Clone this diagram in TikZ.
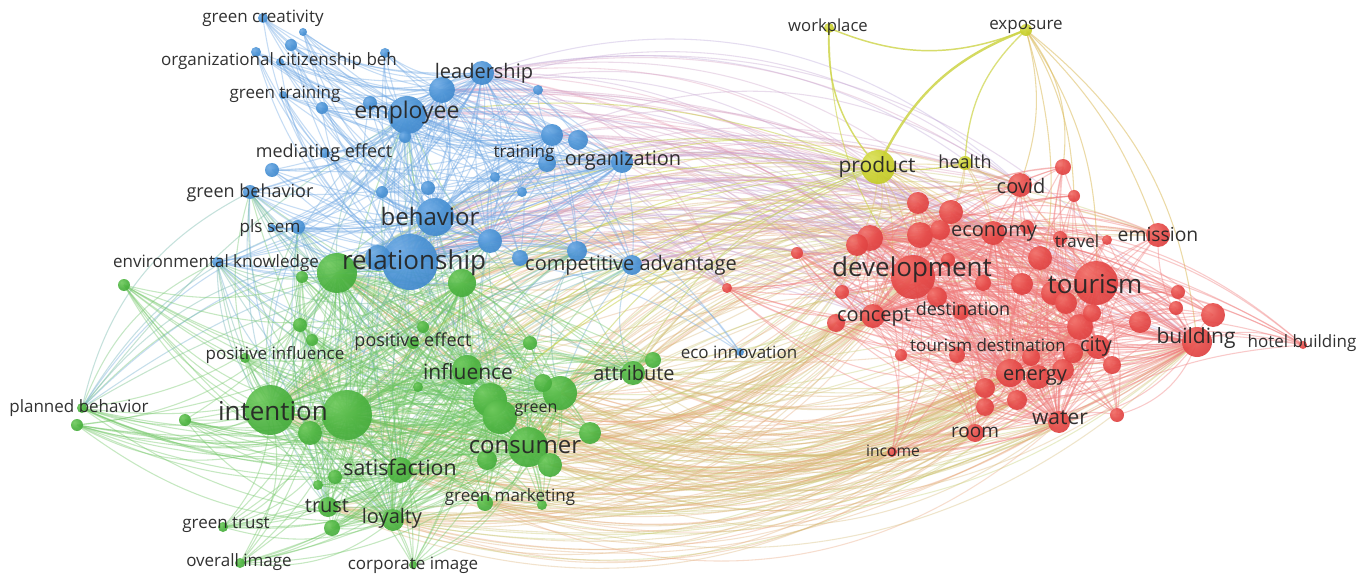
\documentclass[tikz,border=0pt]{standalone}
\usepackage{fontspec}
\setmainfont{Open Sans}
\pgfdeclarelayer{paper}
\pgfdeclarelayer{edges}
\pgfsetlayers{paper,edges,main}

% bubble colours
\definecolor{nodeR}{RGB}{229,74,72}
\definecolor{nodeRl}{RGB}{242,115,108}
\definecolor{nodeRd}{RGB}{212,56,58}
\definecolor{nodeG}{RGB}{78,180,66}
\definecolor{nodeGl}{RGB}{112,202,94}
\definecolor{nodeGd}{RGB}{60,162,54}
\definecolor{nodeB}{RGB}{74,146,212}
\definecolor{nodeBl}{RGB}{112,172,230}
\definecolor{nodeBd}{RGB}{56,126,196}
\definecolor{nodeY}{RGB}{202,209,46}
\definecolor{nodeYl}{RGB}{220,226,92}
\definecolor{nodeYd}{RGB}{186,193,36}
% link colours
\definecolor{eR}{RGB}{240,122,122}
\definecolor{eG}{RGB}{112,198,100}
\definecolor{eB}{RGB}{112,168,228}
\definecolor{eY}{RGB}{205,212,70}
\definecolor{eKhaki}{RGB}{192,205,104}
\definecolor{eSalmon}{RGB}{238,158,122}
\definecolor{eLav}{RGB}{180,162,218}
\definecolor{ePink}{RGB}{234,152,174}
\definecolor{labc}{RGB}{38,38,38}

\pgfdeclareradialshading{shR}{\pgfpoint{-12bp}{12bp}}{color(0bp)=(nodeRl); color(22bp)=(nodeR); color(50bp)=(nodeRd); color(90bp)=(nodeRd)}
\pgfdeclareradialshading{shG}{\pgfpoint{-12bp}{12bp}}{color(0bp)=(nodeGl); color(22bp)=(nodeG); color(50bp)=(nodeGd); color(90bp)=(nodeGd)}
\pgfdeclareradialshading{shB}{\pgfpoint{-12bp}{12bp}}{color(0bp)=(nodeBl); color(22bp)=(nodeB); color(50bp)=(nodeBd); color(90bp)=(nodeBd)}
\pgfdeclareradialshading{shY}{\pgfpoint{-12bp}{12bp}}{color(0bp)=(nodeYl); color(22bp)=(nodeY); color(50bp)=(nodeYd); color(90bp)=(nodeYd)}

\tikzset{
  bub/.style={circle, inner sep=0pt, minimum size=1.5pt*#1, draw=none, fill opacity=0.92},
  rb/.style={bub=#1, shading=shR},
  gb/.style={bub=#1, shading=shG},
  bb/.style={bub=#1, shading=shB},
  yb/.style={bub=#1, shading=shY},
  lbl/.style={inner sep=0pt, text=labc, text opacity=0.95, font=\fontsize{#1}{#1}\selectfont},
  link/.style={line width=0.8pt, draw opacity=0.4},
}

\begin{document}
\begin{tikzpicture}[x=0.75pt, y=-0.75pt]
\begin{pgfonlayer}{paper}
\path[fill=white] (0,0) rectangle (1371,574);
\end{pgfonlayer}
\useasboundingbox (0,0) rectangle (1371,574);
\clip (0,0) rectangle (1371,574);

% ---------------- blue cluster ----------------
\node[bb=28] (brel) at (410,262) {};
\node[bb=13] (brel2) at (378,258) {};
\node[bb=19] (bbeh) at (435,217) {};
\node[bb=19] (bemp) at (407,115) {};
\node[bb=12] (blead) at (482,73) {};
\node[bb=13] (blead2) at (442,90) {};
\node[bb=11] (borg) at (622,162) {};
\node[bb=11] (btr1) at (552,135) {};
\node[bb=10] (btr2) at (578,140) {};
\node[bb=9] (btr3) at (547,163) {};
\node[bb=10] (bcomp) at (632,265) {};
\node[bb=5] (bcrea) at (263,18) {};
\node[bb=4] (bc2) at (303,32) {};
\node[bb=6] (bc3) at (291,45) {};
\node[bb=5] (bc4) at (256,52) {};
\node[bb=4] (bocb) at (280,62) {};
\node[bb=5] (bc5) at (385,53) {};
\node[bb=4] (bgtr) at (283,95) {};
\node[bb=6] (bc6) at (322,108) {};
\node[bb=7] (bc7) at (370,103) {};
\node[bb=6] (bemp2) at (405,137) {};
\node[bb=5] (bc8) at (538,90) {};
\node[bb=5] (bmed) at (325,153) {};
\node[bb=7] (bc9) at (272,170) {};
\node[bb=7] (bgbeh) at (250,192) {};
\node[bb=4] (bpls) at (272,228) {};
\node[bb=7] (bpls2) at (298,227) {};
\node[bb=5] (benvk) at (217,262) {};
\node[bb=6] (bc10) at (382,192) {};
\node[bb=7] (bc11) at (428,188) {};
\node[bb=5] (bc12) at (495,177) {};
\node[bb=5] (bc13) at (522,192) {};
\node[bb=12] (bc14) at (490,241) {};
\node[bb=8] (bc15) at (520,258) {};
\node[bb=10] (bc16) at (577,251) {};
\node[bb=4] (beco) at (740,352) {};

% ---------------- green cluster ----------------
\node[gb=25] (gint) at (270,410) {};
\node[gb=25] (gint2) at (347,415) {};
\node[gb=12] (gint3) at (310,433) {};
\node[gb=20] (grel1) at (337,273) {};
\node[gb=14] (grel2) at (462,283) {};
\node[gb=6] (gs1) at (302,277) {};
\node[gb=7] (gs2) at (300,325) {};
\node[gb=6] (gs3) at (312,340) {};
\node[gb=6] (gs4) at (423,327) {};
\node[gb=6] (gpe) at (413,343) {};
\node[gb=5] (gpi) at (245,358) {};
\node[gb=7] (gs5) at (530,343) {};
\node[gb=15] (ginf) at (467,370) {};
\node[gb=5] (gs6) at (418,387) {};
\node[gb=12] (gattr) at (633,373) {};
\node[gb=8] (gattr2) at (653,360) {};
\node[gb=17] (gb1) at (560,393) {};
\node[gb=9] (gb2) at (543,383) {};
\node[gb=17] (gb3) at (490,400) {};
\node[gb=17] (gb4) at (500,417) {};
\node[gb=20] (gcons) at (528,447) {};
\node[gb=11] (gc2) at (590,433) {};
\node[gb=12] (gc3) at (550,465) {};
\node[gb=10] (gc4) at (487,460) {};
\node[gb=13] (gsat) at (400,470) {};
\node[gb=7] (gs7) at (335,477) {};
\node[gb=5] (gs8) at (318,485) {};
\node[gb=8] (ggm1) at (485,503) {};
\node[gb=5] (ggm2) at (542,505) {};
\node[gb=10] (gtrust) at (328,507) {};
\node[gb=11] (gloy) at (393,520) {};
\node[gb=8] (gs9) at (332,528) {};
\node[gb=5] (ggt) at (223,527) {};
\node[gb=5] (gover) at (240,563) {};
\node[gb=4] (gcorp) at (413,565) {};
\node[gb=5] (gpb) at (82,408) {};
\node[gb=6] (gpb2) at (77,425) {};
\node[gb=6] (gs10) at (185,420) {};
\node[gb=6] (genv) at (124,285) {};

% ---------------- yellow cluster ----------------
\node[yb=5] (ywork) at (829,28) {};
\node[yb=6] (yexpo) at (1026,30) {};
\node[yb=17] (yprod) at (878,167) {};
\node[yb=7] (yhea) at (965,163) {};

% ---------------- red cluster ----------------
\node[rb=22] (rdev) at (913,277) {};
\node[rb=13] (rd1) at (870,238) {};
\node[rb=11] (rd2) at (857,245) {};
\node[rb=11] (rd3) at (918,203) {};
\node[rb=12] (rd4) at (951,212) {};
\node[rb=13] (rd5) at (920,235) {};
\node[rb=10] (rd6) at (940,230) {};
\node[rb=12] (recon) at (993,233) {};
\node[rb=7] (rd7) at (948,260) {};
\node[rb=8] (rd8) at (983,283) {};
\node[rb=11] (rd9) at (1022,284) {};
\node[rb=12] (rd10) at (1040,258) {};
\node[rb=7] (rd11) at (1027,227) {};
\node[rb=12] (rcov) at (1020,185) {};
\node[rb=8] (rd12) at (1063,167) {};
\node[rb=6] (rd13) at (1074,196) {};
\node[rb=7] (rd17) at (1060,238) {};
\node[rb=5] (rtrav) at (1107,240) {};
\node[rb=12] (remis) at (1158,235) {};
\node[rb=22] (rtour) at (1096,283) {};
\node[rb=12] (rt1) at (1053,293) {};
\node[rb=11] (rt2) at (1066,303) {};
\node[rb=13] (rt3) at (1080,327) {};
\node[rb=9] (rt4) at (1092,313) {};
\node[rb=11] (rt5) at (1140,322) {};
\node[rb=12] (rconc) at (873,316) {};
\node[rb=9] (rcon2) at (836,323) {};
\node[rb=7] (rd14) at (842,292) {};
\node[rb=8] (rdest) at (961,312) {};
\node[rb=10] (rd15) at (937,297) {};
\node[rb=12] (rcity) at (1098,347) {};
\node[rb=9] (rcity2) at (1112,365) {};
\node[rb=15] (rbuild) at (1197,342) {};
\node[rb=12] (rb2) at (1213,315) {};
\node[rb=7] (rb3) at (1178,292) {};
\node[rb=7] (rb4) at (1176,308) {};
\node[rb=4] (rhotel) at (1303,345) {};
\node[rb=6] (rtd1) at (901,355) {};
\node[rb=8] (rtd2) at (957,355) {};
\node[rb=14] (ren) at (1010,373) {};
\node[rb=12] (re2) at (1038,377) {};
\node[rb=11] (re3) at (1063,370) {};
\node[rb=9] (re4) at (1031,357) {};
\node[rb=10] (re5) at (1073,353) {};
\node[rb=10] (re6) at (985,388) {};
\node[rb=9] (re7) at (985,407) {};
\node[rb=10] (re8) at (1017,400) {};
\node[rb=11] (rwat) at (1059,422) {};
\node[rb=7] (rw2) at (1117,415) {};
\node[rb=9] (rroom) at (975,433) {};
\node[rb=5] (rinc) at (892,452) {};
\node[rb=6] (rfar1) at (797,253) {};
\node[rb=5] (rfar2) at (727,288) {};

% ---------------- links ----------------
\begin{pgfonlayer}{edges}
% green to red, lower arcs
\foreach \a [count=\i] in {gint,gint2,gcons,gb1,gb3,gsat,gc3,gloy,gtrust,gattr,gb4,grel1,gc2,ggm1}{
  \foreach \b [count=\j] in {rdev,rtour,ren,rwat,rconc,rbuild,rcity,rt3,rroom,re6,rcon2,rd1,rinc,re8}{
    \pgfmathtruncatemacro\bnd{12+mod(\i*7+\j*11,24)}
    \pgfmathtruncatemacro\pct{mod(\i*37+\j*23,100)}
    \draw[link, draw=eKhaki!\pct!eSalmon, draw opacity=0.36] (\a.center) to[bend right=\bnd] (\b.center);
  }
}
% green to red, upper arcs
\foreach \a [count=\i] in {grel1,grel2,ginf,gb1,gint2,gattr,gcons,gint}{
  \foreach \b [count=\j] in {rdev,rd1,rd3,rd4,recon,rcov,rtour,remis,rd5,rfar1}{
    \pgfmathtruncatemacro\bnd{10+mod(\i*5+\j*9,22)}
    \pgfmathtruncatemacro\pct{mod(\i*29+\j*41,100)}
    \draw[link, draw=eKhaki!\pct!eSalmon, draw opacity=0.36] (\a.center) to[bend left=\bnd] (\b.center);
  }
}
% blue to red
\foreach \a [count=\i] in {brel,bbeh,bemp,borg,blead,btr1,bcomp,bc14,brel2,blead2}{
  \foreach \b [count=\j] in {rdev,rtour,rd1,rd5,rcov,recon,rbuild,rconc,ren,rd3,rfar2}{
    \pgfmathtruncatemacro\bnd{10+mod(\i*7+\j*5,24)}
    \pgfmathtruncatemacro\pct{mod(\i*31+\j*17,100)}
    \draw[link, draw=eLav!\pct!ePink, draw opacity=0.36] (\a.center) to[bend left=\bnd] (\b.center);
  }
}
% blue to green
\foreach \a [count=\i] in {brel,brel2,bbeh,bemp,bc14,bcomp,bpls2,benvk,bgbeh,bc16}{
  \foreach \b [count=\j] in {gint,gint2,gcons,grel1,grel2,gsat,gb1,gb3,ginf,gtrust,gloy,gattr,gpe,gpb}{
    \pgfmathtruncatemacro\bnd{10+mod(\i*3+\j*7,22)}
    \pgfmathtruncatemacro\pct{mod(\i*43+\j*19,100)}
    \draw[link, draw=eB!\pct!eG] (\a.center) to[bend right=\bnd] (\b.center);
  }
}
% eco innovation
\foreach \a in {brel,bbeh,bcomp,bemp}{
  \draw[link, draw=eB] (beco.center) to[bend right=18] (\a.center);
}
% product towards the left
\foreach \b [count=\j] in {gint,gint2,gcons,gb1,gb3,grel1,gsat,brel,bbeh,bemp,gattr,ginf,borg,bcomp}{
  \pgfmathtruncatemacro\bnd{8+mod(\j*7,16)}
  \pgfmathtruncatemacro\pct{mod(\j*37,100)}
  \draw[link, draw=eY!\pct!eKhaki, draw opacity=0.55] (yprod.center) to[bend right=\bnd] (\b.center);
}
% product towards the red cluster
\foreach \b [count=\j] in {rdev,rd1,rd2,rd3,rd4,rd5,recon,rtour,rconc,rcov,ren,rcity}{
  \pgfmathtruncatemacro\bnd{8+mod(\j*7,16)}
  \draw[link, draw=eY!60!eSalmon] (yprod.center) to[bend left=\bnd] (\b.center);
}
% exposure, workplace and health
\draw[link, draw=eY, draw opacity=0.8, line width=1.1pt] (yexpo.center) to[bend left=22] (ywork.center);
\draw[link, draw=eY, draw opacity=0.85, line width=1.8pt] (yexpo.center) to[bend right=22] (yprod.center);
\draw[link, draw=eY, draw opacity=0.7, line width=1pt] (yexpo.center) to[bend right=22] (yhea.center);
\draw[link, draw=eY, draw opacity=0.8, line width=1.1pt] (ywork.center) to[bend right=22] (yprod.center);
\draw[link, draw=eY, draw opacity=0.6] (ywork.center) to[bend right=18] (rdev.center);
\draw[link, draw=eY, draw opacity=0.7, line width=1pt] (yhea.center) to[bend left=10] (yprod.center);
\foreach \b [count=\j] in {rcov,rd12,remis,rtour,rbuild,rd13,ren}{
  \pgfmathtruncatemacro\bnd{12+mod(\j*5,14)}
  \draw[link, draw=eY!55!eSalmon, draw opacity=0.55] (yexpo.center) to[bend left=\bnd] (\b.center);
}
\foreach \b in {rcov,rdev,ren,rtour,recon,rd4}{
  \draw[link, draw=eY!55!eSalmon] (yhea.center) to[bend left=15] (\b.center);
}
% within the green cluster
\foreach \a [count=\i] in {gint,gint2,gcons,grel1,gb1,gb3,gb4,gsat,ginf,grel2,gloy,gint3}{
  \foreach \b [count=\j] in {gint,gint2,gint3,grel1,grel2,gs1,gs2,gs3,gs4,gpe,gpi,gs5,ginf,gs6,gattr,gattr2,gb1,gb2,gb3,gb4,gcons,gc2,gc3,gc4,gsat,gs7,gs8,ggm1,ggm2,gtrust,gloy,gs9,ggt,gover,gcorp,gpb,gpb2,gs10,genv}{
    \pgfmathtruncatemacro\bnd{10+mod(\i*7+\j*5,18)}
    \draw[link, draw=eG] (\a.center) to[bend left=\bnd] (\b.center);
  }
}
% within the blue cluster
\foreach \a [count=\i] in {brel,bbeh,bemp,blead2,borg,btr1,bc14,blead}{
  \foreach \b [count=\j] in {brel,brel2,bbeh,bemp,blead,blead2,borg,btr1,btr2,btr3,bcomp,bcrea,bc2,bc3,bc4,bocb,bc5,bgtr,bc6,bc7,bemp2,bc8,bmed,bc9,bgbeh,bpls,bpls2,benvk,bc10,bc11,bc12,bc13,bc14,bc15,bc16}{
    \pgfmathtruncatemacro\bnd{10+mod(\i*7+\j*5,18)}
    \draw[link, draw=eB] (\a.center) to[bend left=\bnd] (\b.center);
  }
}
% within the red cluster
\foreach \a [count=\i] in {rdev,rtour,ren,rd5,rt3,rbuild,rcity,rd1,rconc,rwat,recon}{
  \foreach \b [count=\j] in {rdev,rd1,rd2,rd3,rd4,rd5,rd6,recon,rd7,rd8,rd9,rd10,rd11,rcov,rd12,rd13,rd17,rtrav,remis,rtour,rt1,rt2,rt3,rt4,rt5,rconc,rcon2,rd14,rdest,rd15,rcity,rcity2,rbuild,rb2,rb3,rb4,rhotel,rtd1,rtd2,ren,re2,re3,re4,re5,re6,re7,re8,rwat,rw2,rroom,rinc,rfar1,rfar2}{
    \pgfmathtruncatemacro\bnd{10+mod(\i*7+\j*5,18)}
    \draw[link, draw=eR] (\a.center) to[bend left=\bnd] (\b.center);
  }
}
\end{pgfonlayer}

% ---------------- labels ----------------
\node[lbl=12.75pt] (l-crea) at (263,18) {green creativity};
\node[lbl=12.75pt] (l-ocb) at (279,61) {organizational citizenship beh};
\node[lbl=12.75pt] (l-gtr) at (285,94) {green training};
\node[lbl=17.25pt] (l-emp) at (407,113) {employee};
\node[lbl=15pt] (l-lead) at (484,73) {leadership};
\node[lbl=13.5pt] (l-med) at (324,153) {mediating effect};
\node[lbl=12.75pt] (l-tr) at (524,153) {training};
\node[lbl=15pt] (l-org) at (623,161) {organization};
\node[lbl=13.5pt] (l-gbeh) at (250,193) {green behavior};
\node[lbl=18pt] (l-beh) at (430,216) {behavior};
\node[lbl=12.75pt] (l-pls) at (270,228) {pls sem};
\node[lbl=12.75pt] (l-envk) at (216,263) {environmental knowledge};
\node[lbl=19.5pt] (l-rel) at (414,263) {relationship};
\node[lbl=15pt] (l-comp) at (631,265) {competitive advantage};
\node[lbl=12.75pt] (l-eco) at (739,352) {eco innovation};
\node[lbl=13.5pt] (l-pe) at (413,342) {positive effect};
\node[lbl=12.75pt] (l-pi) at (275,355) {positive influence};
\node[lbl=15.75pt] (l-inf) at (468,372) {influence};
\node[lbl=15pt] (l-attr) at (634,373) {attribute};
\node[lbl=12.75pt] (l-pb) at (79,408) {planned behavior};
\node[lbl=19.5pt] (l-int) at (273,411) {intention};
\node[lbl=12pt] (l-green) at (536,410) {green};
\node[lbl=18pt] (l-cons) at (525,447) {consumer};
\node[lbl=16pt] (l-sat) at (400,467) {satisfaction};
\node[lbl=12.75pt] (l-gm) at (510,497) {green marketing};
\node[lbl=15pt] (l-trust) at (327,506) {trust};
\node[lbl=15pt] (l-loy) at (392,518) {loyalty};
\node[lbl=12.75pt] (l-gt) at (226,525) {green trust};
\node[lbl=12.75pt] (l-over) at (239,562) {overall image};
\node[lbl=12.75pt] (l-corp) at (413,565) {corporate image};
\node[lbl=12.5pt] (l-work) at (828,27) {workplace};
\node[lbl=12.75pt] (l-expo) at (1026,27) {exposure};
\node[lbl=15.75pt] (l-prod) at (877,167) {product};
\node[lbl=13.5pt] (l-hea) at (965,162) {health};
\node[lbl=15pt] (l-cov) at (1021,186) {covid};
\node[lbl=15pt] (l-econ) at (994,233) {economy};
\node[lbl=12.75pt] (l-trav) at (1077,241) {travel};
\node[lbl=14.5pt] (l-emis) at (1158,235) {emission};
\node[lbl=19.5pt] (l-dev) at (912,270) {development};
\node[lbl=19.5pt] (l-tour) at (1095,284) {tourism};
\node[lbl=15pt] (l-conc) at (874,317) {concept};
\node[lbl=13.5pt] (l-dest) at (963,309) {destination};
\node[lbl=12.75pt] (l-tdest) at (988,345) {tourism destination};
\node[lbl=15pt] (l-city) at (1096,347) {city};
\node[lbl=15.75pt] (l-build) at (1196,338) {building};
\node[lbl=12.75pt] (l-hotel) at (1302,343) {hotel building};
\node[lbl=15pt] (l-en) at (1035,377) {energy};
\node[lbl=15.75pt] (l-wat) at (1060,418) {water};
\node[lbl=14.25pt] (l-room) at (975,432) {room};
\node[lbl=11.75pt] (l-inc) at (893,451) {income};
\end{tikzpicture}
\end{document}
